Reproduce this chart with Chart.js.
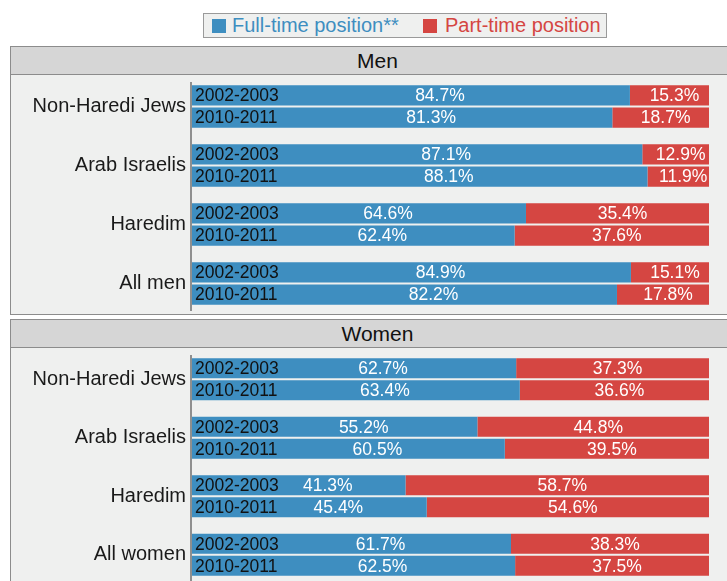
<!DOCTYPE html>
<html>
<head>
<meta charset="utf-8">
<script src="https://cdn.jsdelivr.net/npm/chart.js@4.4.1/dist/chart.umd.min.js"></script>
<style>
html, body { margin:0; padding:0; background:#fff; overflow:hidden; width:727px; height:581px; }
body { position:relative; font-family:"Liberation Sans", Arial, sans-serif; }
.legend { position:absolute; left:203px; top:13px; width:404px; height:25px; box-sizing:border-box;
  border:1px solid #9a9a9a; background:#eff0ef; }
.legend .sw { position:absolute; top:5px; width:14px; height:14px; }
.legend .tx { position:absolute; top:0; font-size:20px; line-height:23px; white-space:nowrap; }
.panel { position:absolute; left:10px; width:745px; box-sizing:border-box; border:1px solid #8c8c8c; background:#eff0ef; }
.panel .hdr { height:28px; box-sizing:border-box; border-bottom:1px solid #8c8c8c; background:#d6d6d6;
  text-align:center; font-size:21px; line-height:28px; color:#111; padding-right:0; }
.hdr span { position:absolute; left:0; width:733px; top:0; }
canvas { position:absolute; left:0; }
</style>
</head>
<body>
<div class="legend">
  <div class="sw" style="left:8px;background:#3e8ec0"></div>
  <div class="tx" id="lgFull" style="left:28px;color:#3e8ec0"></div>
  <div class="sw" style="left:219px;background:#d54642"></div>
  <div class="tx" id="lgPart" style="left:241px;color:#d54642"></div>
</div>
<div class="panel" style="top:46px;height:269px"><div class="hdr"><span id="hMen"></span></div></div>
<div class="panel" style="top:319px;height:300px"><div class="hdr"><span id="hWomen"></span></div></div>
<canvas id="men" width="727" height="237" style="top:76px"></canvas>
<canvas id="women" width="727" height="236" style="top:348px"></canvas>
<script>
// --- data ---
const periods = ['2002-2003', '2010-2011'];
const seriesNames = ['Full-time position**', 'Part-time position'];
const panelTitles = ['Men', 'Women'];

const menGroups = ['Non-Haredi Jews', 'Arab Israelis', 'Haredim', 'All men'];
const menFull2002 = [84.7, 87.1, 64.6, 84.9];
const menPart2002 = [15.3, 12.9, 35.4, 15.1];
const menFull2010 = [81.3, 88.1, 62.4, 82.2];
const menPart2010 = [18.7, 11.9, 37.6, 17.8];

const womenGroups = ['Non-Haredi Jews', 'Arab Israelis', 'Haredim', 'All women'];
const womenFull2002 = [62.7, 55.2, 41.3, 61.7];
const womenPart2002 = [37.3, 44.8, 58.7, 38.3];
const womenFull2010 = [63.4, 60.5, 45.4, 62.5];
const womenPart2010 = [36.6, 39.5, 54.6, 37.5];

const BLUE = '#3e8ec0', RED = '#d54642';
const FONT = '"Liberation Sans", Arial, sans-serif';

document.getElementById('lgFull').textContent = seriesNames[0];
document.getElementById('lgPart').textContent = seriesNames[1];
document.getElementById('hMen').textContent = panelTitles[0];
document.getElementById('hWomen').textContent = panelTitles[1];

// vertical axis line, a bit shorter than the plot area
const axisLine = {
  id: 'axisLine',
  beforeDatasetsDraw(chart) {
    const {ctx, chartArea} = chart;
    ctx.save();
    ctx.strokeStyle = '#8f8f8f';
    ctx.lineWidth = 2;
    ctx.beginPath();
    ctx.moveTo(chartArea.left - 1, chartArea.top + 5);
    ctx.lineTo(chartArea.left - 1, chartArea.bottom - 2);
    ctx.stroke();
    ctx.restore();
  }
};

// labels inside the bars
const barLabels = {
  id: 'barLabels',
  afterDatasetsDraw(chart) {
    const ctx = chart.ctx;
    ctx.save();
    ctx.textBaseline = 'middle';
    chart.data.datasets.forEach((ds, di) => {
      const meta = chart.getDatasetMeta(di);
      meta.data.forEach((el, i) => {
        const v = ds.data[i];
        const x0 = Math.min(el.base, el.x), x1 = Math.max(el.base, el.x);
        ctx.font = '17.5px ' + FONT;
        if (ds.kind === 'full') {
          ctx.fillStyle = '#111';
          ctx.textAlign = 'left';
          ctx.fillText(ds.period, x0 + 3, el.y + 1);
          ctx.fillStyle = '#fff';
          ctx.textAlign = 'center';
          ctx.fillText(v.toFixed(1) + '%', (x0 + 58 + x1) / 2, el.y + 1);
        } else {
          ctx.fillStyle = '#fff';
          ctx.textAlign = 'center';
          ctx.fillText(v.toFixed(1) + '%', (x0 + x1 + 10) / 2, el.y + 1);
        }
      });
    });
    ctx.restore();
  }
};

function makePanel(id, groups, f02, p02, f10, p10, padTop, padBottom) {
  const ds = (data, kind, period, stack) => ({
    data, kind, period, stack,
    backgroundColor: kind === 'full' ? BLUE : RED,
    borderWidth: 0,
    categoryPercentage: 0.757,
    barPercentage: 0.9
  });
  return new Chart(document.getElementById(id), {
    type: 'bar',
    data: {
      labels: groups,
      datasets: [
        ds(f02, 'full', periods[0], 'a'),
        ds(p02, 'part', periods[0], 'a'),
        ds(f10, 'full', periods[1], 'b'),
        ds(p10, 'part', periods[1], 'b')
      ]
    },
    options: {
      indexAxis: 'y',
      responsive: false,
      animation: false,
      layout: { padding: { left: 0, right: 18, top: padTop, bottom: padBottom } },
      plugins: { legend: { display: false }, tooltip: { enabled: false } },
      scales: {
        x: { display: false, stacked: true, min: 0, max: 100 },
        y: {
          stacked: true,
          grid: { display: false, drawTicks: false },
          border: { display: false },
          ticks: { color: '#1a1a1a', padding: 6, font: { family: FONT, size: 20 } },
          afterFit(scale) {
            scale.width = 192;
            scale.paddingTop = 0;
            scale.paddingBottom = 0;
          }
        }
      }
    },
    plugins: [axisLine, barLabels]
  });
}

makePanel('men', menGroups, menFull2002, menPart2002, menFull2010, menPart2010, 1, 0);
makePanel('women', womenGroups, womenFull2002, womenPart2002, womenFull2010, womenPart2010, 2, 0);
</script>
</body>
</html>
